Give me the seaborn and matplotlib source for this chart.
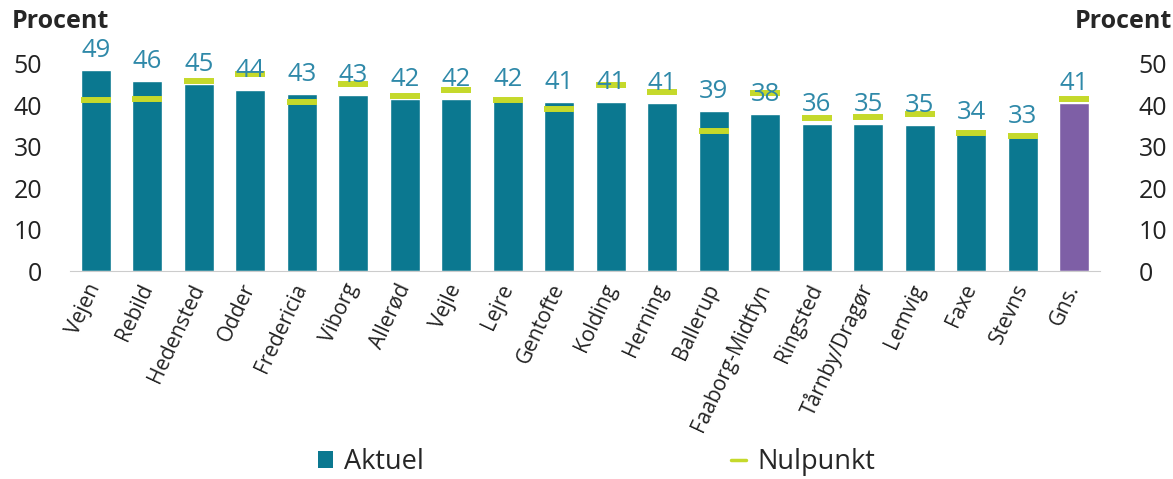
import numpy as np
import pandas as pd
import seaborn as sns
import matplotlib.pyplot as plt
from matplotlib.lines import Line2D
from matplotlib.patches import Patch

# Data
kommuner = ['Vejen', 'Rebild', 'Hedensted', 'Odder', 'Fredericia', 'Viborg',
            'Allerød', 'Vejle', 'Lejre', 'Gentofte', 'Kolding', 'Herning',
            'Ballerup', 'Faaborg-Midtfyn', 'Ringsted', 'Tårnby/Dragør',
            'Lemvig', 'Faxe', 'Stevns', 'Gns.']
aktuel = [48.6, 45.8, 45.2, 43.6, 42.8, 42.6, 41.6, 41.6, 41.6, 40.8,
          40.8, 40.6, 38.6, 38.0, 35.6, 35.4, 35.2, 33.6, 32.6, 40.6]
nulpunkt = [41.2, 41.4, 45.8, 47.5, 40.8, 45.2, 42.2, 43.6, 41.2, 39.2,
            44.8, 43.2, 33.7, 43.0, 37.0, 37.2, 37.8, 33.4, 32.6, 41.4]
yticks = [0, 10, 20, 30, 40, 50]

TEAL = '#0B7890'
PURPLE = '#7E5FA6'
GREEN = '#C5D92B'
LABEL_COL = '#2F89A9'

sns.set_style('white')
plt.rcParams['font.family'] = ['Open Sans', 'DejaVu Sans']

df = pd.DataFrame({'kommune': kommuner, 'aktuel': aktuel, 'nulpunkt': nulpunkt})
palette = {k: (PURPLE if k == 'Gns.' else TEAL) for k in kommuner}

fig = plt.figure(figsize=(11.73, 4.79), dpi=100)
ax = fig.add_axes([0.0597, 0.434, 0.878, 0.476])

sns.barplot(data=df, x='kommune', y='aktuel', hue='kommune', palette=palette,
            width=0.58, legend=False, saturation=1, ax=ax, zorder=2)

# Nulpunkt markers
xpos = np.arange(len(kommuner))
ax.hlines(df['nulpunkt'], xpos - 0.29, xpos + 0.29, color=GREEN, lw=4.3, zorder=3)

for c in ax.containers:
    ax.bar_label(c, fmt='%.0f', padding=5, color=LABEL_COL, fontsize=18.5, zorder=4)

ax.set_ylim(0, 55)
ax.set_xlim(-0.5, len(kommuner) - 0.5)
ax.set_yticks(yticks)
ax.tick_params(axis='y', length=0, labelsize=18, pad=20, colors='#222222')
ax.set_xlabel('')
ax.set_ylabel('')

# category boundary ticks like Excel
ax.set_xticks(xpos)
ax.set_xticks(np.arange(len(kommuner) + 1) - 0.5, minor=True)
ax.tick_params(axis='x', which='major', length=0, pad=10)
ax.tick_params(axis='x', which='minor', length=7, color='#cccccc', width=1)
ax.set_xticklabels(kommuner, rotation=65, ha='right', va='center',
                   rotation_mode='anchor', fontsize=15, color='#222222')

for s in ['top', 'left', 'right']:
    ax.spines[s].set_visible(False)
ax.spines['bottom'].set_color('#cccccc')

ax2 = ax.twinx()
ax2.set_ylim(ax.get_ylim())
ax2.set_yticks(yticks)
ax2.tick_params(axis='y', length=0, labelsize=18, pad=28, colors='#222222')
for s in ['top', 'left', 'right', 'bottom']:
    ax2.spines[s].set_visible(False)

fig.text(0.010, 0.955, 'Procent', fontsize=18, fontweight='bold', ha='left', va='center')
fig.text(0.999, 0.955, 'Procent', fontsize=18, fontweight='bold', ha='right', va='center')

handles = [Patch(facecolor=TEAL, edgecolor='none'),
           Line2D([0], [0], color=GREEN, lw=2.5)]
fig.legend(handles, ['Aktuel', 'Nulpunkt'], loc='center', bbox_to_anchor=(0.5085, 0.035),
           ncol=2, frameon=False, fontsize=19.5, handlelength=0.55, handleheight=0.55,
           handletextpad=0.4, columnspacing=11.35)

fig.savefig('out.png', dpi=100)
